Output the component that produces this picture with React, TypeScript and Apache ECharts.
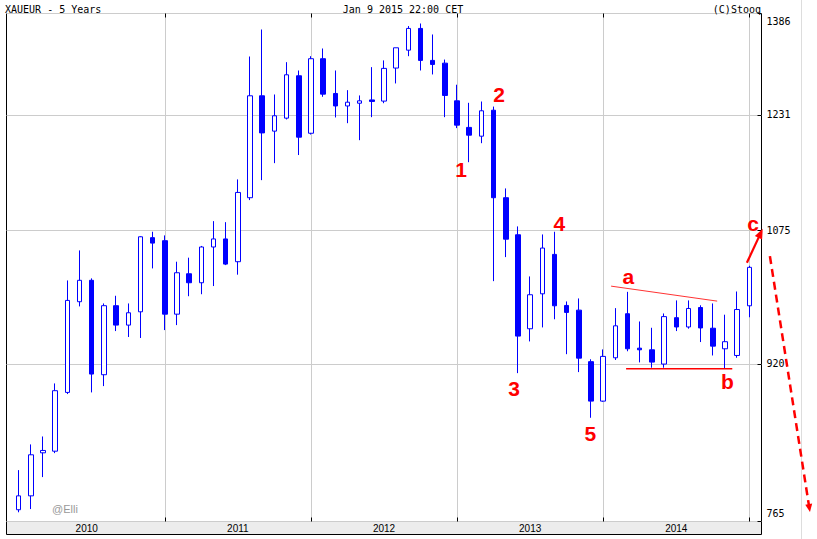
import React, { useEffect, useRef } from 'react';
import * as echarts from 'echarts';

// ---- data (monthly candles, XAU/EUR) ----
const months: string[] = [
  'Jan 2010', 'Feb 2010', 'Mar 2010', 'Apr 2010', 'May 2010', 'Jun 2010', 'Jul 2010', 'Aug 2010', 'Sep 2010', 'Oct 2010', 'Nov 2010', 'Dec 2010',
  'Jan 2011', 'Feb 2011', 'Mar 2011', 'Apr 2011', 'May 2011', 'Jun 2011', 'Jul 2011', 'Aug 2011', 'Sep 2011', 'Oct 2011', 'Nov 2011', 'Dec 2011',
  'Jan 2012', 'Feb 2012', 'Mar 2012', 'Apr 2012', 'May 2012', 'Jun 2012', 'Jul 2012', 'Aug 2012', 'Sep 2012', 'Oct 2012', 'Nov 2012', 'Dec 2012',
  'Jan 2013', 'Feb 2013', 'Mar 2013', 'Apr 2013', 'May 2013', 'Jun 2013', 'Jul 2013', 'Aug 2013', 'Sep 2013', 'Oct 2013', 'Nov 2013', 'Dec 2013',
  'Jan 2014', 'Feb 2014', 'Mar 2014', 'Apr 2014', 'May 2014', 'Jun 2014', 'Jul 2014', 'Aug 2014', 'Sep 2014', 'Oct 2014', 'Nov 2014', 'Dec 2014',
  'Jan 2015',
];

const opens: number[] = [
  775.6, 788.3, 829.0, 830.6, 889.7, 989.3, 1014.4, 908.3, 984.7, 962.6, 977.7, 1066.3,
  1062.5, 975.0, 1022.2, 1011.5, 1054.7, 1064.7, 1036.7, 1117.3, 1258.8, 1207.8, 1226.3, 1288.6,
  1204.8, 1314.6, 1262.2, 1243.9, 1247.9, 1252.7, 1251.0, 1300.3, 1327.8, 1362.0, 1312.0, 1307.8,
  1251.4, 1213.1, 1200.7, 1237.7, 1117.3, 1069.9, 958.5, 998.5, 1045.6, 985.0, 979.6, 922.3,
  880.7, 926.5, 975.5, 937.0, 935.2, 919.7, 971.0, 960.5, 982.6, 959.1, 936.3, 929.0,
  984.6,
];
const highs: number[] = [
  812.4, 837.2, 845.0, 899.1, 1014.2, 1050.5, 1016.7, 987.3, 996.2, 987.3, 1068.0, 1073.7,
  1069.1, 1036.7, 1041.6, 1056.0, 1087.1, 1085.8, 1141.5, 1318.0, 1360.3, 1260.7, 1309.3, 1296.6,
  1318.5, 1330.4, 1296.6, 1267.1, 1259.3, 1301.7, 1312.0, 1331.5, 1365.8, 1369.9, 1352.4, 1313.3,
  1275.2, 1248.5, 1250.4, 1243.0, 1129.5, 1080.4, 1019.0, 1070.3, 1073.7, 989.6, 993.1, 924.9,
  935.6, 981.9, 1000.8, 966.7, 959.6, 975.8, 990.8, 990.8, 985.2, 987.3, 974.4, 1001.2,
  1031.8,
];
const lows: number[] = [
  773.3, 776.2, 805.8, 828.7, 888.0, 983.9, 889.7, 896.3, 955.9, 949.3, 948.2, 1028.6,
  957.0, 962.6, 995.7, 998.0, 1007.6, 1032.6, 1021.1, 1114.2, 1140.5, 1163.4, 1224.4, 1174.5,
  1203.0, 1257.3, 1227.3, 1219.1, 1195.1, 1227.7, 1247.9, 1277.1, 1318.5, 1296.6, 1290.6, 1227.7,
  1212.1, 1164.7, 1190.9, 1013.4, 1042.3, 910.0, 944.4, 960.0, 969.2, 930.4, 911.1, 863.7,
  880.0, 924.1, 933.6, 921.5, 915.8, 915.8, 955.9, 958.6, 943.7, 929.0, 915.0, 926.5,
  971.5,
];
const closes: number[] = [
  788.3, 827.1, 831.3, 891.5, 990.8, 1014.4, 909.0, 984.7, 962.6, 976.6, 1067.4, 1059.5,
  975.0, 1023.4, 1011.5, 1054.7, 1064.7, 1033.8, 1124.2, 1258.8, 1205.3, 1229.7, 1290.1, 1199.3,
  1314.6, 1261.2, 1243.9, 1249.4, 1251.4, 1250.5, 1299.8, 1331.5, 1362.0, 1312.0, 1305.8, 1259.3,
  1216.3, 1202.1, 1236.9, 1117.3, 1064.4, 950.3, 997.4, 1053.4, 984.6, 977.0, 926.1, 880.7,
  928.0, 961.8, 936.3, 935.2, 921.8, 972.2, 960.5, 981.5, 959.4, 939.2, 944.1, 980.3,
  1029.9,
];

const priceTicks: number[] = [765, 920, 1075, 1231, 1386];
const priceMin = 765;
const priceMax = 1386;

// hand-drawn annotations, anchored in data space (month position, price)
const waveTexts: string[] = ['1', '2', '3', '4', '5', 'a', 'b', 'c'];
const waveMonthPos: number[] = [36.34, 39.46, 40.69, 44.39, 46.94, 50.07, 58.21, 60.3];
const wavePrices: number[] = [1154.9, 1260.7, 893.9, 1084.2, 848.0, 1019.0, 901.2, 1084.2];

const lineAMonths: number[] = [48.65, 57.36];
const lineAPrices: number[] = [1007.5, 990.0];
const lineBMonths: number[] = [49.88, 58.6];
const lineBPrices: number[] = [914.7, 914.7];
const arrowCMonths: number[] = [59.8, 61.1];
const arrowCPrices: number[] = [1035.4, 1077.5];
const arrowDownMonths: number[] = [61.69, 64.98];
const arrowDownPrices: number[] = [1043.5, 773.5];

const RED = '#ff0000';
const BLUE = '#0000ff';

function arrowHead(x1: number, y1: number, x2: number, y2: number, len: number, half: number) {
  const dx = x2 - x1;
  const dy = y2 - y1;
  const L = Math.hypot(dx, dy) || 1;
  const ux = dx / L;
  const uy = dy / L;
  const bx = x2 - ux * len;
  const by = y2 - uy * len;
  return {
    points: [
      [x2, y2],
      [bx - uy * half, by + ux * half],
      [bx + uy * half, by - ux * half],
    ],
    base: [bx + ux * 1, by + uy * 1],
  };
}

export default function App() {
  const ref = useRef<HTMLDivElement>(null);

  useEffect(() => {
    if (!ref.current) return;
    const chart = echarts.init(ref.current, null, { renderer: 'svg' });
    const cats = ['', ...months, ' '];
    const source = months.map((m, i) => [m, opens[i], closes[i], lows[i], highs[i]]);
    const isYearStart = (_i: number, v: string) => typeof v === 'string' && v.startsWith('Jan') && v !== months[0];
    const isMidYear = (_i: number, v: string) => typeof v === 'string' && v.startsWith('Jul');

    chart.setOption({
      animation: false,
      backgroundColor: '#ffffff',
      grid: {
        left: 6.5,
        top: 13.5,
        width: 755,
        height: 508,
        show: true,
        borderColor: '#000000',
        borderWidth: 1,
        backgroundColor: '#ffffff',
      },
      dataset: {
        dimensions: ['month', 'open', 'close', 'low', 'high'],
        source,
      },
      xAxis: [
        {
          type: 'category',
          data: cats,
          boundaryGap: false,
          position: 'bottom',
          axisLine: { show: false },
          axisTick: { show: true, inside: true, length: 4, interval: isYearStart, lineStyle: { color: '#000' } },
          axisLabel: {
            interval: isMidYear,
            margin: 1,
            color: '#000',
            fontFamily: 'Liberation Sans, Arial, sans-serif',
            fontSize: 10,
            lineHeight: 12,
            formatter: (v: string) => (v === 'Jul 2010' ? '{first|2010}' : v.slice(4)),
            rich: { first: { padding: [0, 10, 0, 0], fontSize: 10, fontFamily: 'Liberation Sans, Arial, sans-serif', color: '#000' } },
          },
          splitLine: { show: true, interval: isYearStart, lineStyle: { color: '#cccccc', width: 1 } },
        },
        {
          type: 'category',
          data: cats,
          boundaryGap: false,
          position: 'top',
          axisLine: { show: false },
          axisTick: { show: true, inside: true, length: 4, interval: isYearStart, lineStyle: { color: '#000' } },
          axisLabel: { show: false },
          splitLine: { show: false },
        },
      ],
      yAxis: {
        type: 'log',
        logBase: 10,
        position: 'right',
        min: priceMin,
        max: priceMax,
        axisLine: { show: false },
        axisTick: { show: true, inside: true, length: 4, customValues: priceTicks, lineStyle: { color: '#000' } },
        axisLabel: {
          customValues: priceTicks,
          margin: 5,
          color: '#000',
          fontFamily: 'DejaVu Sans Mono, monospace',
          fontSize: 10,
          lineHeight: 16,
          verticalAlignMinLabel: 'bottom',
          verticalAlignMaxLabel: 'top',
          formatter: (v: number) => String(Math.round(v)),
        },
        splitLine: { show: true, lineStyle: { color: '#cccccc', width: 1 } },
      },
      series: [
        {
          type: 'candlestick',
          xAxisIndex: 0,
          yAxisIndex: 0,
          encode: { x: 'month', y: ['open', 'close', 'low', 'high'] },
          barWidth: 5,
          itemStyle: {
            color: '#ffffff',
            color0: BLUE,
            borderColor: BLUE,
            borderColor0: BLUE,
            borderWidth: 1,
          },
        },
      ],
    });

    // anchor annotations in data space through the axes
    const xFirst = chart.convertToPixel({ xAxisIndex: 0 }, months[0]) as number;
    const xSecond = chart.convertToPixel({ xAxisIndex: 0 }, months[1]) as number;
    const step = xSecond - xFirst;
    const px = (m: number, p: number): [number, number] => [
      xFirst + m * step,
      chart.convertToPixel({ yAxisIndex: 0 }, p) as number,
    ];

    const graphics: any[] = [];
    // title row
    const titleFont = '10px "DejaVu Sans Mono", monospace';
    graphics.push({ type: 'text', left: 5, top: 4, style: { text: 'XAUEUR - 5 Years', font: titleFont, fill: '#000' } });
    graphics.push({ type: 'text', x: 403, y: 4, style: { text: 'Jan 9 2015 22:00 CET', font: titleFont, fill: '#000', align: 'center', verticalAlign: 'top' } });
    graphics.push({ type: 'text', x: 761, y: 4, style: { text: '(C)Stooq', font: titleFont, fill: '#000', align: 'right', verticalAlign: 'top' } });
    // label band under the plot
    graphics.push({
      type: 'rect', z: -5,
      shape: { x: 6.5, y: 521.5, width: 755, height: 13 },
      style: { fill: '#ececec', stroke: '#000', lineWidth: 1 },
    });
    // faint right line
    graphics.push({ type: 'line', shape: { x1: 801.5, y1: 0, x2: 801.5, y2: 539 }, style: { stroke: '#dddddd', lineWidth: 1 } });
    // watermark
    graphics.push({ type: 'text', x: 52, y: 509, style: { text: '@Elli', font: '11px "Liberation Sans", Arial, sans-serif', fill: '#999999', verticalAlign: 'middle' } });

    // wave labels
    waveTexts.forEach((t, i) => {
      const [x, y] = px(waveMonthPos[i], wavePrices[i]);
      graphics.push({
        type: 'text', x, y, z: 10,
        style: { text: t, font: 'bold 21px "Liberation Sans", Arial, sans-serif', fill: RED, align: 'center', verticalAlign: 'middle' },
      });
    });

    // trend line a
    {
      const [x1, y1] = px(lineAMonths[0], lineAPrices[0]);
      const [x2, y2] = px(lineAMonths[1], lineAPrices[1]);
      graphics.push({ type: 'line', z: 10, shape: { x1, y1, x2, y2 }, style: { stroke: '#ff3333', lineWidth: 1 } });
    }
    // support line b
    {
      const [x1, y1] = px(lineBMonths[0], lineBPrices[0]);
      const [x2, y2] = px(lineBMonths[1], lineBPrices[1]);
      graphics.push({ type: 'line', z: 10, shape: { x1, y1, x2, y2 }, style: { stroke: RED, lineWidth: 1.5 } });
    }
    // arrow to c
    {
      const [x1, y1] = px(arrowCMonths[0], arrowCPrices[0]);
      const [x2, y2] = px(arrowCMonths[1], arrowCPrices[1]);
      const h = arrowHead(x1, y1, x2, y2, 10, 4);
      graphics.push({ type: 'line', z: 11, shape: { x1, y1, x2: h.base[0], y2: h.base[1] }, style: { stroke: RED, lineWidth: 2.2 } });
      graphics.push({ type: 'polygon', z: 11, shape: { points: h.points }, style: { fill: RED } });
    }
    // dashed projection arrow
    {
      const [x1, y1] = px(arrowDownMonths[0], arrowDownPrices[0]);
      const [x2, y2] = px(arrowDownMonths[1], arrowDownPrices[1]);
      const h = arrowHead(x1, y1, x2, y2, 8, 3.5);
      graphics.push({ type: 'line', z: 10, shape: { x1, y1, x2: h.base[0], y2: h.base[1] }, style: { stroke: RED, lineWidth: 2.5, lineDash: [8, 5] } });
      graphics.push({ type: 'polygon', z: 10, shape: { points: h.points }, style: { fill: RED } });
    }

    chart.setOption({ graphic: graphics });

    return () => {
      chart.dispose();
    };
  }, []);

  return (
    <div
      ref={ref}
      style={{ position: 'fixed', left: 0, top: 0, width: 817, height: 539, background: '#ffffff' }}
    />
  );
}
